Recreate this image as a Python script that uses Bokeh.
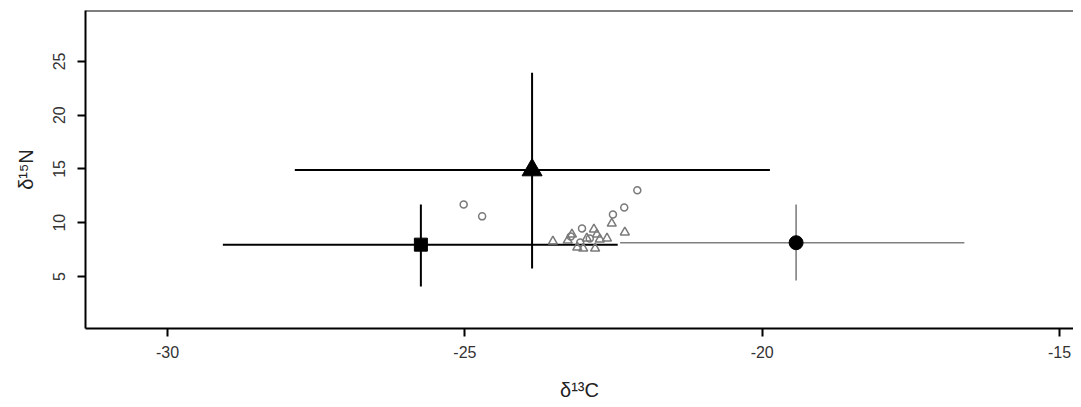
from bokeh.plotting import figure
from bokeh.models import Range1d, FixedTicker, Span
from bokeh.embed import file_html
from bokeh.resources import INLINE

# Group means and error-bar ranges (square, triangle, circle)
mean_c = [-25.74, -23.87, -19.43]
mean_n = [7.96, 14.9, 8.14]
c_low = [-29.07, -27.86, -22.39]
c_high = [-22.43, -19.87, -16.60]
n_low = [4.07, 5.74, 4.63]
n_high = [11.70, 23.95, 11.70]
bar_colors = ["black", "black", "#808080"]

# Individual samples: open triangles
tri_c = [-23.52, -23.20, -22.83, -22.78, -22.95, -22.73, -22.61, -23.11, -23.01, -22.81, -22.31, -22.53, -23.27]
tri_n = [8.26, 8.91, 9.38, 8.91, 8.54, 8.45, 8.54, 7.70, 7.61, 7.61, 9.10, 9.93, 8.35]
# Individual samples: open circles
circ_c = [-25.02, -24.71, -22.10, -22.32, -22.51, -23.03, -23.22, -22.90, -23.06]
circ_n = [11.70, 10.59, 13.01, 11.42, 10.77, 9.47, 8.72, 8.54, 8.17]

x_ticks = [-30, -25, -20, -15]
x_tick_labels = ["-30", "-25", "-20", "-15"]
y_ticks = [5, 10, 15, 20, 25]
y_tick_labels = ["5", "10", "15", "20", "25"]
X_MIN, X_MAX = -31.38, -14.765
Y_MIN, Y_MAX = 0.16, 29.74

FONT = "Liberation Sans"

p = figure(width=1073, height=406, output_backend="svg", toolbar_location=None,
           x_range=Range1d(X_MIN, X_MAX), y_range=Range1d(Y_MIN, Y_MAX),
           min_border_left=85, min_border_right=0, min_border_top=10, min_border_bottom=78)
p.grid.visible = False
p.outline_line_color = None
p.background_fill_color = "white"

for ax, ticks, labels in ((p.xaxis, x_ticks, x_tick_labels), (p.yaxis, y_ticks, y_tick_labels)):
    ax.ticker = FixedTicker(ticks=ticks)
    ax.major_label_overrides = {t: l for t, l in zip(ticks, labels)}
    ax.minor_tick_line_color = None
    ax.major_tick_in = 0
    ax.major_tick_out = 8
    ax.major_tick_line_width = 2
    ax.axis_line_width = 2
    ax.axis_line_color = "black"
    ax.major_tick_line_color = "black"
    ax.major_label_text_font = FONT
    ax.major_label_text_font_size = "16px"
    ax.major_label_text_color = "#333333"
    ax.axis_label_text_font = FONT
    ax.axis_label_text_font_style = "normal"
    ax.axis_label_text_font_size = "20px"
    ax.axis_label_text_color = "#222222"

p.xaxis.axis_label = "δ¹³C"
p.yaxis.axis_label = "δ¹⁵N"
p.xaxis.major_label_standoff = 9
p.xaxis.axis_label_standoff = 18
p.yaxis.major_label_standoff = 12
p.yaxis.axis_label_standoff = 14
p.yaxis.major_label_orientation = "vertical"

# top frame line
p.add_layout(Span(location=Y_MAX, dimension="width", line_color="black", line_width=2))

# error bars
for i in range(len(mean_c)):
    lw = 2 if bar_colors[i] == "black" else 1.6
    p.segment(x0=[c_low[i]], y0=[mean_n[i]], x1=[c_high[i]], y1=[mean_n[i]],
              line_color=bar_colors[i], line_width=lw)
    p.segment(x0=[mean_c[i]], y0=[n_low[i]], x1=[mean_c[i]], y1=[n_high[i]],
              line_color=bar_colors[i], line_width=lw)

# samples
p.scatter(tri_c, tri_n, marker="triangle", size=9, fill_color=None,
          line_color="#7a7a7a", line_width=1.5)
p.scatter(circ_c, circ_n, marker="circle", size=7, fill_color=None,
          line_color="#7a7a7a", line_width=1.5)

# group means
p.scatter([mean_c[0]], [mean_n[0]], marker="square", size=13, fill_color="black", line_color="black")
p.scatter([mean_c[1]], [mean_n[1]], marker="triangle", size=20, fill_color="black", line_color="black")
p.scatter([mean_c[2]], [mean_n[2]], marker="circle", size=14, fill_color="black", line_color="black")

open("out.html", "w").write(file_html(p, INLINE))
